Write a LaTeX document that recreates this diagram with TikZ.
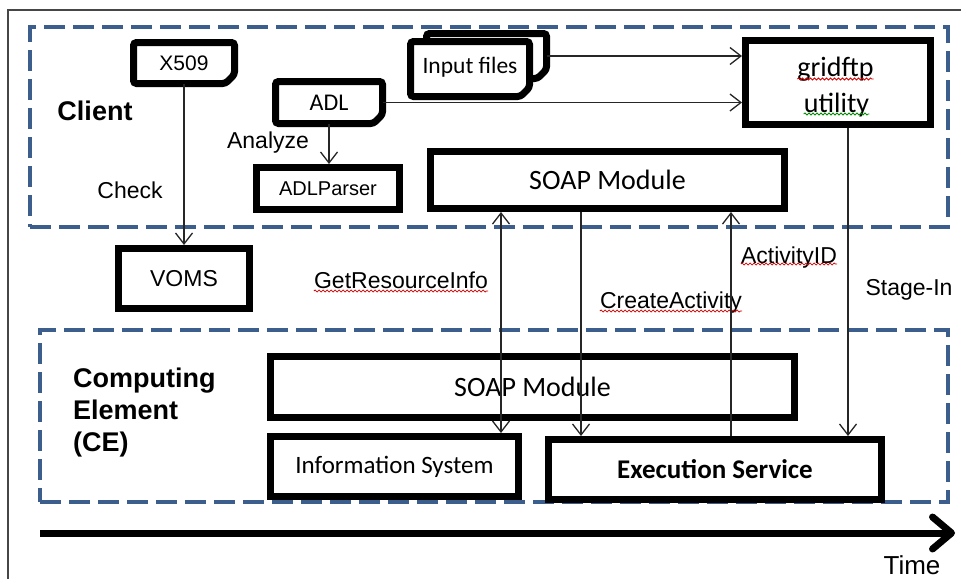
\documentclass[tikz,border=0pt]{standalone}
\usepackage{fontspec}
\setmainfont{Carlito}
\newfontfamily\arialf{Liberation Sans}
\usetikzlibrary{arrows.meta,decorations.pathmorphing,calc}
\definecolor{dashblue}{RGB}{59,94,140}
\definecolor{framegray}{RGB}{70,70,70}
\tikzset{
  box/.style={draw=black, line width=7pt, fill=white, inner sep=0pt, outer sep=3.5pt, font=\fontsize{28}{34}\selectfont},
  docnode/.style={inner sep=0pt, outer sep=0pt},
  docline/.style={draw=black, fill=white, line width=7pt, rounded corners=3pt},
  doctext/.style={inner sep=0pt, font=\fontsize{24}{28}\selectfont},
  group/.style={draw=dashblue, line width=4pt, dash pattern=on 21pt off 8pt, inner sep=0pt, outer sep=0pt},
  conn/.style={draw=black!85, line width=1.3pt},
  >={Straight Barb[length=11pt,width=17pt]},
  lbl/.style={inner sep=0pt, anchor=base, font=\arialf\fontsize{23}{27}\selectfont},
  boldlbl/.style={inner sep=0pt, font=\arialf\bfseries\fontsize{28}{32}\selectfont},
  wavyred/.style={draw=red!85!black, line width=0.8pt, decorate, decoration={snake, amplitude=1pt, segment length=4pt}},
  wavygreen/.style={draw=green!55!black, line width=0.8pt, decorate, decoration={snake, amplitude=1pt, segment length=4pt}},
}
\newcommand{\docpath}[1]{\draw[docline] (#1.north west) -- (#1.north east) -- ([yshift=9pt]#1.south east) -- ([xshift=-9pt]#1.south east) -- (#1.south west) -- cycle;}
\begin{document}
\begin{tikzpicture}[x=1pt,y=-1pt]
\useasboundingbox (0,0) rectangle (961,579);
% outer frame
\draw[framegray, line width=1.5pt] (961,10) -- (8,10) -- (8,579);
% groups
\node[group, minimum width=918pt, minimum height=200pt] (clientgrp) at (489,127) {};
\node[group, minimum width=908pt, minimum height=172pt] (cegrp) at (494,416) {};
% group titles
\node[boldlbl, anchor=base, font=\arialf\bfseries\fontsize{27}{32}\selectfont] (client) at (95,120) {Client};
\node[boldlbl, anchor=north west, align=left, font=\arialf\bfseries\fontsize{27}{32}\selectfont] (ce) at (73,368) {Computing\\Element\\(CE)};
% document shapes
\node[docnode, minimum width=101pt, minimum height=41pt] (x509) at (184,63) {};
\docpath{x509}
\node[doctext, font=\arialf\fontsize{21}{25}\selectfont] (x509t) at (x509.center) {X509};
\node[docnode, minimum width=107pt, minimum height=42pt] (adl) at (329,102.5) {};
\docpath{adl}
\node[doctext] (adlt) at (adl.center) {ADL};
\node[docnode, minimum width=120pt, minimum height=45pt] (inback) at (486.5,56) {};
\docpath{inback}
\node[docnode, minimum width=119pt, minimum height=55pt] (infront) at (470,69) {};
\docpath{infront}
\node[doctext, font=\fontsize{23.5}{28}\selectfont] (inputt) at ([yshift=2pt]infront.center) {Input files};
% boxes
\node[box, font=\arialf\fontsize{20}{24}\selectfont, minimum width=143pt, minimum height=42pt] (adlp) at (328,188.5) {ADLParser};
\node[box, minimum width=185pt, minimum height=84pt] (grid) at (838,82.5) {};
\node[lbl, font=\fontsize{28}{32}\selectfont] (gridt1) at (835.5,76) {gridftp};
\node[lbl, font=\fontsize{28}{32}\selectfont] (gridt2) at (836.5,112) {utility};
\node[box, minimum width=354pt, minimum height=57pt] (soapc) at (607.5,180) {SOAP Module};
\node[box, font=\arialf\fontsize{23}{27}\selectfont, minimum width=131pt, minimum height=60pt] (voms) at (184,278.5) {VOMS};
\node[box, minimum width=524pt, minimum height=61pt] (soapce) at (532.5,387) {SOAP Module};
\node[box, font=\fontsize{25}{30}\selectfont, minimum width=248pt, minimum height=60pt] (info) at (394.5,466.5) {Information System};
\node[box, font=\bfseries\fontsize{27}{32}\selectfont, minimum width=333pt, minimum height=60pt] (exec) at (715,469.5) {Execution Service};
% labels
\node[lbl] (check) at (130,198) {Check};
\node[lbl] (analyze) at (268,148) {Analyze};
\node[lbl] (getres) at (401,288) {GetResourceInfo};
\node[lbl] (create) at (671,308) {CreateActivity};
\node[lbl] (actid) at (789,263) {ActivityID};
\node[lbl] (stagein) at (909,295) {Stage-In};
\node[lbl, font=\arialf\fontsize{26}{30}\selectfont] (time) at (912,574) {Time};
% spell-check underlines
\draw[wavyred] ([yshift=-3pt]gridt1.base west) -- ([yshift=-3pt]gridt1.base east);
\draw[wavygreen] ([yshift=-2pt]gridt2.base west) -- ([yshift=-2pt]gridt2.base east);
\draw[wavyred] ([yshift=-3pt]getres.base west) -- ([yshift=-3pt]getres.base east);
\draw[wavyred] ([yshift=-3pt]create.base west) -- ([yshift=-3pt]create.base east);
\draw[wavyred] ([yshift=-1pt]actid.base west) -- ([yshift=-1pt]actid.base east);
% connectors
\coordinate (xg) at (501,0);
\coordinate (xc) at (581,0);
\coordinate (xa) at (731,0);
\coordinate (xs) at (848,0);
\draw[conn,->] (x509.south) -- (voms.north);
\draw[conn,->] (adl.south) -- (adl.south |- adlp.north);
\draw[conn,->] (inback.east) -- (inback.east -| grid.west);
\draw[conn,->] (adl.east) -- (adl.east -| grid.west);
\draw[conn,<->] (xg |- soapc.south) -- (xg |- info.north);
\draw[conn,->] (xc |- soapc.south) -- (xc |- exec.north);
\draw[conn,->] (xa |- exec.north) -- (xa |- soapc.south);
\draw[conn,->] (xs |- grid.south) -- (xs |- exec.north);
% time axis
\coordinate (tA) at (40,533);
\coordinate (tB) at (955,533);
\draw[line width=7pt, -{Straight Barb[length=19pt,width=32pt,line cap=round,line join=round]}] (tA) -- (tB);
\end{tikzpicture}
\end{document}
